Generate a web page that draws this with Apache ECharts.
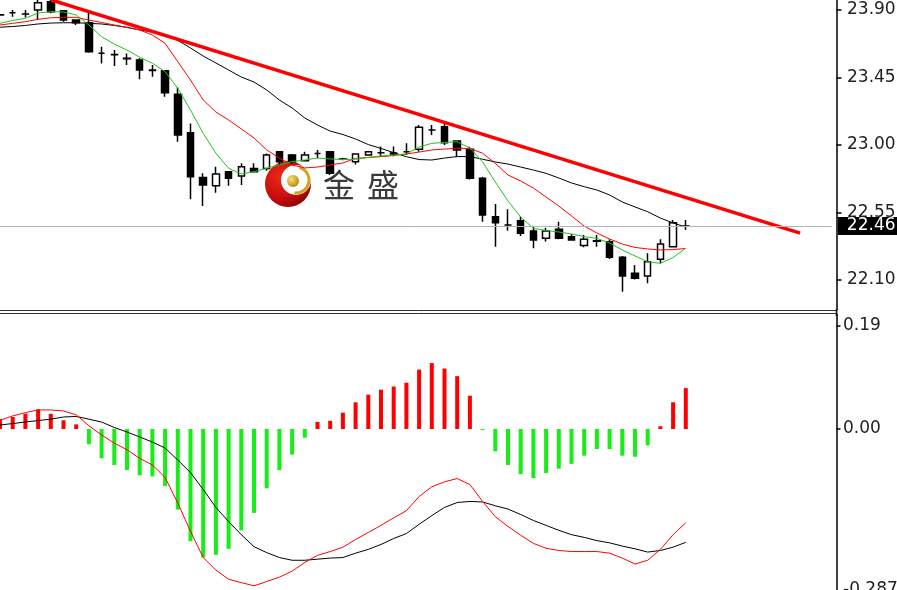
<!DOCTYPE html>
<html>
<head>
<meta charset="utf-8">
<script src="https://cdn.jsdelivr.net/npm/echarts@6/dist/echarts.min.js"></script>
<style>
html,body{margin:0;padding:0;background:#fff;}
#main{width:897px;height:590px;}
</style>
</head>
<body>
<div id="main"></div>
<script>
// ---------- data ----------
const slotCount = 66; // 55 bars + empty space on the right
const categories = [];
for (let i = 0; i < slotCount; i++) categories.push(String(i));

// [open, close, low, high]
const candles = [
  [23.868, 23.866, 23.862, 23.872],
  [23.882, 23.882, 23.855, 23.900],
  [23.873, 23.874, 23.850, 23.900],
  [23.900, 23.949, 23.833, 23.967],
  [23.955, 23.889, 23.878, 23.967],
  [23.895, 23.833, 23.822, 23.900],
  [23.833, 23.815, 23.800, 23.833],
  [23.815, 23.622, 23.615, 23.889],
  [23.611, 23.611, 23.544, 23.655],
  [23.602, 23.604, 23.527, 23.633],
  [23.578, 23.575, 23.533, 23.610],
  [23.567, 23.500, 23.438, 23.578],
  [23.500, 23.497, 23.455, 23.533],
  [23.495, 23.349, 23.322, 23.500],
  [23.338, 23.067, 23.022, 23.384],
  [23.082, 22.789, 22.638, 23.144],
  [22.784, 22.733, 22.593, 22.811],
  [22.729, 22.807, 22.682, 22.855],
  [22.822, 22.778, 22.729, 22.822],
  [22.793, 22.855, 22.733, 22.878],
  [22.844, 22.822, 22.820, 22.878],
  [22.844, 22.933, 22.829, 22.944],
  [22.955, 22.889, 22.870, 22.960],
  [22.933, 22.889, 22.870, 22.940],
  [22.895, 22.933, 22.890, 22.955],
  [22.944, 22.944, 22.911, 22.967],
  [22.955, 22.811, 22.800, 22.960],
  [22.906, 22.905, 22.898, 22.915],
  [22.889, 22.940, 22.870, 22.945],
  [22.933, 22.955, 22.930, 22.960],
  [22.948, 22.948, 22.922, 22.990],
  [22.947, 22.940, 22.925, 22.990],
  [22.955, 22.955, 22.933, 23.011],
  [22.971, 23.118, 22.955, 23.133],
  [23.100, 23.100, 23.067, 23.133],
  [23.122, 23.015, 23.000, 23.144],
  [23.027, 22.967, 22.918, 23.030],
  [22.971, 22.778, 22.770, 22.989],
  [22.778, 22.533, 22.489, 22.789],
  [22.522, 22.482, 22.322, 22.607],
  [22.467, 22.467, 22.429, 22.571],
  [22.495, 22.411, 22.393, 22.522],
  [22.427, 22.367, 22.311, 22.451],
  [22.378, 22.427, 22.356, 22.449],
  [22.438, 22.378, 22.371, 22.489],
  [22.389, 22.367, 22.367, 22.406],
  [22.330, 22.371, 22.318, 22.400],
  [22.362, 22.358, 22.322, 22.400],
  [22.355, 22.251, 22.240, 22.371],
  [22.251, 22.127, 22.022, 22.260],
  [22.145, 22.111, 22.104, 22.200],
  [22.127, 22.222, 22.078, 22.278],
  [22.238, 22.340, 22.211, 22.371],
  [22.322, 22.482, 22.318, 22.500],
  [22.460, 22.460, 22.433, 22.500]
];

const maGreen = [23.811,23.830,23.845,23.880,23.889,23.887,23.867,23.800,23.722,23.673,
  23.633,23.585,23.545,23.489,23.378,23.233,23.078,22.945,22.845,22.807,
  22.822,22.845,22.867,22.889,22.900,22.913,22.907,22.903,22.905,22.917,
  22.927,22.933,22.940,22.987,23.011,23.017,23.022,22.980,22.887,22.753,
  22.627,22.520,22.445,22.430,22.420,22.407,22.389,22.377,22.347,22.300,
  22.260,22.222,22.211,22.250,22.313];

const maRed = [23.800,23.811,23.822,23.838,23.848,23.851,23.851,23.833,23.817,23.800,
  23.783,23.767,23.733,23.678,23.555,23.433,23.300,23.220,23.167,23.107,
  23.047,22.967,22.913,22.867,22.847,22.853,22.867,22.880,22.911,22.917,
  22.922,22.930,22.940,22.953,22.967,22.973,22.978,22.977,22.945,22.878,
  22.800,22.760,22.713,22.653,22.593,22.527,22.460,22.413,22.373,22.340,
  22.317,22.307,22.300,22.303,22.310];

const maBlack = [23.785,23.790,23.797,23.807,23.813,23.815,23.815,23.811,23.807,23.797,
  23.785,23.767,23.753,23.733,23.697,23.647,23.593,23.547,23.500,23.453,
  23.420,23.367,23.300,23.247,23.180,23.133,23.093,23.070,23.040,23.003,
  22.977,22.949,22.922,22.903,22.900,22.913,22.923,22.923,22.905,22.887,
  22.873,22.853,22.833,22.811,22.780,22.747,22.722,22.700,22.667,22.620,
  22.587,22.555,22.513,22.480,22.453];

// trend line: [slot index, price]
const trendStart = [4, 23.968];
const trendEnd = [63, 22.412];

const lastPrice = 22.46;
const priceTicks = [23.90, 23.45, 23.00, 22.55, 22.10];

const macdHist = [0.018,0.022,0.028,0.036,0.028,0.016,0.0085,-0.028,-0.0536,-0.066,
  -0.0755,-0.085,-0.087,-0.105,-0.148,-0.206,-0.236,-0.231,-0.220,-0.186,
  -0.154,-0.109,-0.0755,-0.047,-0.016,0.013,0.015,0.030,0.049,0.063,
  0.072,0.078,0.085,0.109,0.121,0.111,0.097,0.061,-0.002,-0.041,
  -0.066,-0.083,-0.090,-0.081,-0.073,-0.064,-0.049,-0.037,-0.037,-0.049,
  -0.051,-0.030,0.005,0.049,0.075];

const macdRed = [0.016,0.024,0.030,0.035,0.035,0.033,0.026,0.006,-0.011,-0.026,
  -0.038,-0.054,-0.066,-0.089,-0.136,-0.188,-0.236,-0.259,-0.276,-0.282,
  -0.288,-0.280,-0.272,-0.261,-0.245,-0.232,-0.225,-0.217,-0.203,-0.190,
  -0.177,-0.163,-0.150,-0.124,-0.106,-0.097,-0.091,-0.102,-0.133,-0.161,
  -0.179,-0.195,-0.210,-0.219,-0.223,-0.225,-0.225,-0.225,-0.228,-0.237,
  -0.248,-0.241,-0.221,-0.194,-0.172];

const macdBlack = [0.0073,0.010,0.0128,0.0155,0.018,0.022,0.023,0.018,0.0128,0.0027,
  -0.0055,-0.0146,-0.024,-0.035,-0.057,-0.080,-0.111,-0.144,-0.170,-0.194,
  -0.216,-0.227,-0.236,-0.241,-0.241,-0.239,-0.237,-0.236,-0.228,-0.221,
  -0.212,-0.201,-0.192,-0.175,-0.159,-0.144,-0.135,-0.133,-0.134,-0.141,
  -0.147,-0.157,-0.168,-0.177,-0.186,-0.194,-0.199,-0.205,-0.209,-0.215,
  -0.220,-0.226,-0.223,-0.217,-0.208];

const macdTicks = [0.19, 0.00, -0.287];
const macdTickLabels = ['0.19', '0.00', '-0.287'];

// ---------- chart ----------
const chart = echarts.init(document.getElementById('main'), null, {renderer: 'canvas'});

const AXIS_FONT = 'DejaVu Sans';
const gridLeft = -6.35;
const gridWidth = 838.2;

const option = {
  animation: false,
  backgroundColor: '#ffffff',
  grid: [
    {left: gridLeft, top: 0, width: gridWidth, height: 310, outerBoundsMode: 'none', containLabel: false},
    {left: gridLeft, top: 314, width: gridWidth, height: 290, outerBoundsMode: 'none', containLabel: false}
  ],
  xAxis: [
    {type: 'category', gridIndex: 0, data: categories, boundaryGap: true, show: false},
    {type: 'category', gridIndex: 1, data: categories, boundaryGap: true, show: false}
  ],
  yAxis: [
    {
      type: 'value', gridIndex: 0, position: 'right', offset: 4.65,
      min: 21.90, max: 23.9667, scale: true,
      splitLine: {show: false},
      axisLine: {show: true, lineStyle: {color: '#000', width: 1.5}},
      axisTick: {show: true, length: 5, customValues: priceTicks, lineStyle: {color: '#000', width: 1.5}},
      axisLabel: {
        show: true, customValues: priceTicks, margin: 10.5,
        color: '#222', fontFamily: AXIS_FONT, fontSize: 17,
        formatter: v => v.toFixed(2)
      }
    },
    {
      type: 'value', gridIndex: 1, position: 'right', offset: 4.65,
      min: -0.3213, max: 0.2111,
      splitLine: {show: false},
      axisLine: {show: true, lineStyle: {color: '#000', width: 1.5}},
      axisTick: {show: true, length: 4, customValues: [0.19, 0.00], lineStyle: {color: '#000', width: 1.5}},
      axisLabel: {
        show: true, customValues: macdTicks, margin: 6.5,
        color: '#222', fontFamily: AXIS_FONT, fontSize: 17,
        formatter: function (v) {
          let idx = -1;
          for (let i = 0; i < macdTicks.length; i++) if (Math.abs(macdTicks[i] - v) < 1e-6) idx = i;
          const t = idx >= 0 ? macdTickLabels[idx] : String(v);
          return v < -0.2 ? '{lo|' + t + '}' : t;
        },
        rich: {lo: {color: '#222', fontFamily: AXIS_FONT, fontSize: 17, padding: [8, 0, 0, 0]}}
      }
    }
  ],
  series: [
    {
      type: 'candlestick', xAxisIndex: 0, yAxisIndex: 0, z: 2,
      data: candles, barWidth: 7,
      itemStyle: {color: '#ffffff', color0: '#000000', borderColor: '#000000', borderColor0: '#000000', borderWidth: 1.5},
      markLine: {
        silent: true, symbol: 'none', animation: false,
        data: [{yAxis: lastPrice}],
        lineStyle: {color: '#b4b4b4', width: 1, type: 'solid'},
        label: {
          show: true, position: 'end', distance: 6,
          formatter: lastPrice.toFixed(2),
          backgroundColor: '#000', color: '#fff',
          fontFamily: AXIS_FONT, fontSize: 17, lineHeight: 17,
          padding: [1, 10, 0, 9]
        }
      }
    },
    {type: 'line', xAxisIndex: 0, yAxisIndex: 0, z: 3, data: maBlack, symbol: 'none', lineStyle: {color: '#000', width: 1}},
    {type: 'line', xAxisIndex: 0, yAxisIndex: 0, z: 3, data: maRed, symbol: 'none', lineStyle: {color: '#ff0000', width: 1}},
    {type: 'line', xAxisIndex: 0, yAxisIndex: 0, z: 3, data: maGreen, symbol: 'none', lineStyle: {color: '#1cc61c', width: 1}},
    {type: 'line', xAxisIndex: 0, yAxisIndex: 0, z: 4, data: [trendStart, trendEnd], symbol: 'none',
      lineStyle: {color: '#ff0000', width: 3.5}},
    {
      type: 'bar', xAxisIndex: 1, yAxisIndex: 1, z: 2, data: macdHist, barWidth: 4,
      itemStyle: {color: p => (p.value >= 0 ? '#ff0000' : '#16ee16')}
    },
    {type: 'line', xAxisIndex: 1, yAxisIndex: 1, z: 3, data: macdBlack, symbol: 'none', lineStyle: {color: '#000', width: 1}},
    {type: 'line', xAxisIndex: 1, yAxisIndex: 1, z: 3, data: macdRed, symbol: 'none', lineStyle: {color: '#ff0000', width: 1}}
  ],
  graphic: [
    {type: 'line', z: 50, shape: {x1: 0, y1: 310.5, x2: 837, y2: 310.5}, style: {stroke: '#333', lineWidth: 1}},
    {type: 'line', z: 50, shape: {x1: 0, y1: 313.5, x2: 837, y2: 313.5}, style: {stroke: '#333', lineWidth: 1}},
    {type: 'line', z: 50, shape: {x1: 836.5, y1: 309, x2: 836.5, y2: 316}, style: {stroke: '#000', lineWidth: 1.5}},
    {
      type: 'group', z: 60, children: [
        {type: 'circle', shape: {cx: 288, cy: 184, r: 23},
          style: {fill: new echarts.graphic.RadialGradient(0.35, 0.35, 0.8, [
            {offset: 0, color: '#f02a1a'}, {offset: 0.6, color: '#c40c0c'}, {offset: 1, color: '#7a0000'}])}},
        {type: 'circle', shape: {cx: 296, cy: 180, r: 15}, style: {fill: '#ffffff'}},
        {type: 'arc', shape: {cx: 296, cy: 180, r: 13, startAngle: -1.3, endAngle: 1.7},
          style: {stroke: '#d6a21e', lineWidth: 3, fill: null}},
        {type: 'circle', shape: {cx: 293, cy: 181, r: 6},
          style: {fill: new echarts.graphic.RadialGradient(0.35, 0.35, 0.7, [
            {offset: 0, color: '#f6e27a'}, {offset: 1, color: '#b8860b'}])}},
        {type: 'text', x: 323, y: 185, style: {text: '金', font: '32px "Noto Sans CJK SC"', fill: '#3a3a3a', verticalAlign: 'middle'}},
        {type: 'text', x: 367, y: 185, style: {text: '盛', font: '32px "Noto Sans CJK SC"', fill: '#3a3a3a', verticalAlign: 'middle'}}
      ]
    }
  ]
};

chart.setOption(option);
</script>
</body>
</html>
